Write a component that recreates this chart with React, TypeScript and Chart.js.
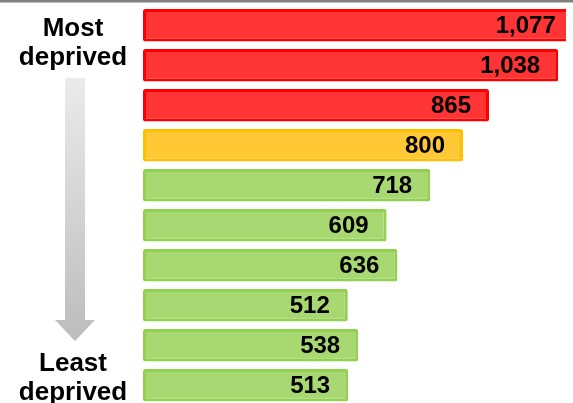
import { useEffect, useRef } from 'react';
import { Chart, registerables } from 'chart.js';

Chart.register(...registerables);

const categories = ['Decile 1', 'Decile 2', 'Decile 3', 'Decile 4', 'Decile 5', 'Decile 6', 'Decile 7', 'Decile 8', 'Decile 9', 'Decile 10'];
const values = [1077, 1038, 865, 800, 718, 609, 636, 512, 538, 513];
const bands = ['high', 'high', 'high', 'mid', 'low', 'low', 'low', 'low', 'low', 'low'];
const fillColors: Record<string, string> = { high: '#ff3434', mid: '#ffc834', low: '#a8d872' };
const borderColors: Record<string, string> = { high: '#ff0000', mid: '#ffc000', low: '#92d050' };
const topLabel = ['Most', 'deprived'];
const bottomLabel = ['Least', 'deprived'];

const W = 573;
const H = 406;

const decorPlugin = {
  id: 'decor',
  afterDatasetsDraw(chart: any) {
    const ctx = chart.ctx;
    const meta = chart.getDatasetMeta(0);
    const xs = chart.scales.x;
    ctx.save();
    ctx.font = 'bold 24px "Liberation Sans", Arial, sans-serif';
    ctx.fillStyle = '#000000';
    ctx.textAlign = 'right';
    ctx.textBaseline = 'middle';
    meta.data.forEach((bar: any, i: number) => {
      const x = xs.getPixelForValue(values[i]) - 18;
      ctx.fillText(values[i].toLocaleString('en-US'), x, bar.y + 1);
    });
    ctx.restore();
  },
  afterDraw(chart: any) {
    const ctx = chart.ctx;
    ctx.save();
    // top rule
    ctx.fillStyle = '#808080';
    ctx.fillRect(0, 0, W, 2.5);
    // side texts
    ctx.fillStyle = '#000000';
    ctx.font = 'bold 26px "Liberation Sans", Arial, sans-serif';
    ctx.textAlign = 'center';
    ctx.textBaseline = 'alphabetic';
    ctx.fillText(topLabel[0], 73, 36);
    ctx.fillText(topLabel[1], 73, 65);
    ctx.fillText(bottomLabel[0], 73, 371);
    ctx.fillText(bottomLabel[1], 73, 400);
    // arrow
    const grad = ctx.createLinearGradient(0, 78, 0, 341);
    grad.addColorStop(0, '#ebebeb');
    grad.addColorStop(1, '#bcbcbc');
    ctx.fillStyle = grad;
    ctx.beginPath();
    ctx.moveTo(65, 78);
    ctx.lineTo(85, 78);
    ctx.lineTo(85, 320);
    ctx.lineTo(95, 320);
    ctx.lineTo(75, 341);
    ctx.lineTo(55, 320);
    ctx.lineTo(65, 320);
    ctx.closePath();
    ctx.fill();
    ctx.restore();
  },
};

export default function App() {
  const ref = useRef<HTMLCanvasElement | null>(null);
  useEffect(() => {
    if (!ref.current) return;
    const chart = new Chart(ref.current, {
      type: 'bar',
      data: {
        labels: categories,
        datasets: [
          {
            data: values,
            backgroundColor: bands.map((b) => fillColors[b]),
            borderColor: bands.map((b) => borderColors[b]),
            borderWidth: 3,
            borderSkipped: false,
            borderRadius: 2,
            categoryPercentage: 1,
            barPercentage: 0.81,
          },
        ],
      },
      options: {
        indexAxis: 'y',
        responsive: false,
        animation: false,
        devicePixelRatio: 1,
        layout: { padding: { left: 143, right: 7, top: 5.3, bottom: 0.7 } },
        plugins: { legend: { display: false }, tooltip: { enabled: false } },
        scales: {
          x: { display: false, min: 0, max: 1057.5, grid: { display: false } },
          y: { display: false, grid: { display: false } },
        },
      },
      plugins: [decorPlugin],
    });
    return () => chart.destroy();
  }, []);
  return (
    <div style={{ position: 'fixed', left: 0, top: 0, width: W, height: 403, overflow: 'hidden', background: '#ffffff' }}>
      <canvas ref={ref} width={W} height={H} style={{ display: 'block' }} />
    </div>
  );
}
